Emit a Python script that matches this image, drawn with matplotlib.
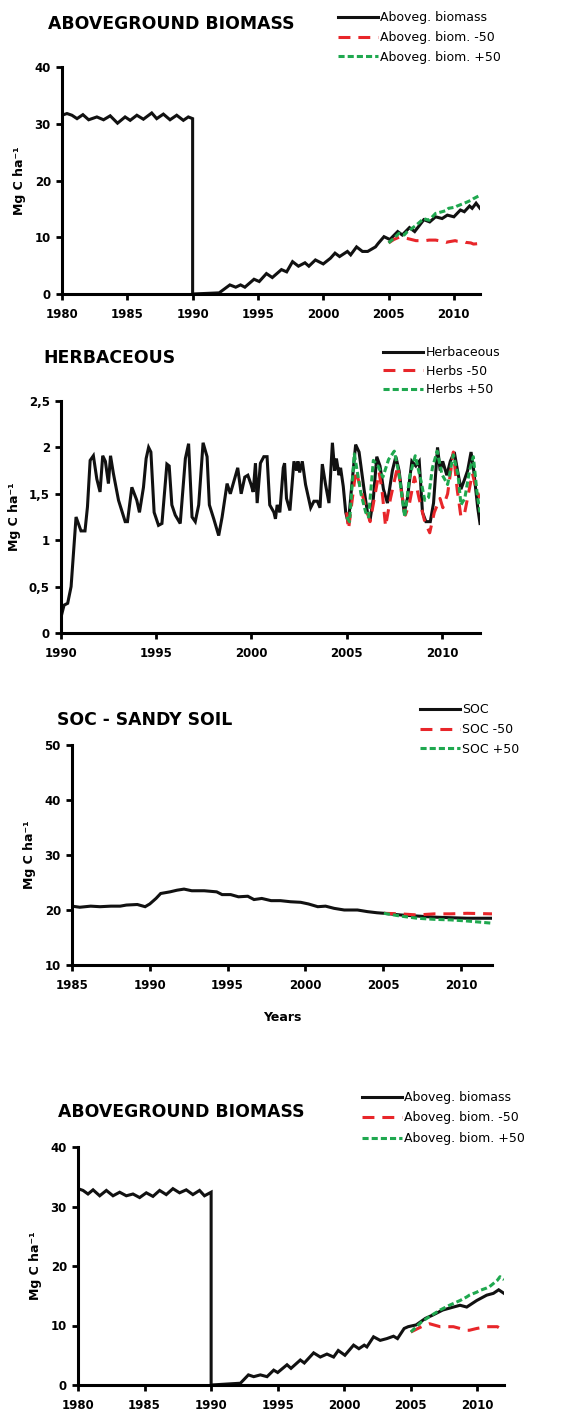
import matplotlib
matplotlib.use("Agg")
import matplotlib.pyplot as plt

plt.rcParams['font.family'] = ['DejaVu Sans']
plt.rcParams['font.weight'] = 'bold'

# --- Aboveground biomass (top panel) ---
agb_years = [1980.0, 1980.38, 1980.76, 1981.15, 1981.6, 1982.04, 1982.67, 1983.18, 1983.69,
             1984.25, 1984.83, 1985.22, 1985.73, 1986.23, 1986.87, 1987.25, 1987.76, 1988.27,
             1988.78, 1989.29, 1989.67, 1990.0, 1990.0,
             1992.03, 1992.85, 1993.3, 1993.67, 1994.0, 1994.7, 1995.1, 1995.65, 1996.1, 1996.8,
             1997.2, 1997.65, 1998.1, 1998.6, 1998.9, 1999.4, 2000.0, 2000.55, 2000.9, 2001.25,
             2001.85, 2002.1, 2002.55, 2003.0, 2003.4, 2004.0, 2004.2, 2004.65, 2005.1, 2005.7,
             2006.05, 2006.6, 2007.0, 2007.7, 2008.15, 2008.6, 2009.1, 2009.5, 2010.0, 2010.5,
             2010.8, 2011.2, 2011.4, 2011.7, 2012.0]
agb_vals = [31.5, 31.8, 31.5, 30.9, 31.6, 30.7, 31.2, 30.7, 31.4,
            30.1, 31.2, 30.6, 31.5, 30.8, 31.9, 30.9, 31.7, 30.7,
            31.5, 30.6, 31.2, 30.9, 0.0,
            0.2, 1.6, 1.2, 1.6, 1.2, 2.6, 2.2, 3.6, 2.9, 4.3,
            3.9, 5.7, 4.9, 5.5, 4.9, 6.0, 5.3, 6.3, 7.2, 6.6,
            7.5, 6.9, 8.3, 7.5, 7.5, 8.3, 8.9, 10.1, 9.6, 11.0,
            10.4, 11.7, 11.0, 13.1, 12.7, 13.6, 13.3, 13.9, 13.6, 14.8,
            14.5, 15.5, 15.1, 16.0, 15.1]
agb_scen_years = [2005.0, 2005.4, 2005.8, 2006.2, 2006.4, 2007.1, 2007.7, 2007.8, 2008.1, 2008.6,
                  2009.1, 2009.4, 2009.6, 2010.1, 2010.25, 2010.8, 2010.9, 2011.3, 2011.5, 2012.0]
agb_minus = [9.0, 9.6, 10.0, 9.9, 9.8, 9.4, 9.4, 9.4, 9.5, 9.5,
             9.3, 9.1, 9.2, 9.4, 9.3, 9.2, 9.1, 9.0, 8.8, 8.9]
agb_plus = [9.0, 9.8, 10.7, 10.4, 10.9, 12.1, 13.3, 13.2, 13.0, 14.2,
            14.5, 14.7, 15.1, 15.3, 15.5, 16.0, 16.1, 16.5, 16.8, 17.4]

# --- Herbaceous ---
herb_years = [1990.0, 1990.16, 1990.35, 1990.53, 1990.79, 1991.05, 1991.26, 1991.39, 1991.53,
              1991.7, 1991.88, 1992.05, 1992.19, 1992.33, 1992.49, 1992.6, 1992.75, 1993.02,
              1993.37, 1993.49, 1993.72, 1993.98, 1994.12, 1994.33, 1994.47, 1994.6, 1994.72,
              1994.89, 1995.12, 1995.3, 1995.56, 1995.68, 1995.82, 1996.0, 1996.26, 1996.53,
              1996.7, 1996.88, 1997.05, 1997.23, 1997.46, 1997.67, 1997.79, 1998.02, 1998.28,
              1998.46, 1998.72, 1998.89, 1999.28, 1999.46, 1999.65, 1999.81, 1999.98, 2000.09,
              2000.21, 2000.3, 2000.47, 2000.65, 2000.82, 2000.96, 2001.18, 2001.26, 2001.35,
              2001.49, 2001.67, 2001.74, 2001.84, 2002.02, 2002.23, 2002.37, 2002.44, 2002.53,
              2002.67, 2002.84, 2003.11, 2003.28, 2003.46, 2003.6, 2003.72, 2003.89, 2004.07,
              2004.25, 2004.37, 2004.46, 2004.6, 2004.68, 2004.82, 2004.95, 2005.09, 2005.25,
              2005.47, 2005.65, 2005.91, 2006.09, 2006.23, 2006.4, 2006.58, 2006.75, 2006.93,
              2007.14, 2007.4, 2007.58, 2007.75, 2008.02, 2008.19, 2008.42, 2008.63, 2008.81,
              2008.98, 2009.16, 2009.39, 2009.56, 2009.77, 2009.91, 2010.04, 2010.26, 2010.44,
              2010.65, 2010.82, 2011.0, 2011.18, 2011.35, 2011.53, 2011.67, 2011.88, 2012.0]
herb_vals = [0.17, 0.30, 0.32, 0.50, 1.25, 1.10, 1.10, 1.36, 1.86,
             1.91, 1.66, 1.52, 1.91, 1.85, 1.61, 1.91, 1.72, 1.43,
             1.20, 1.20, 1.57, 1.43, 1.30, 1.57, 1.88, 2.00, 1.95,
             1.30, 1.16, 1.18, 1.82, 1.80, 1.38, 1.27, 1.18, 1.88,
             2.04, 1.25, 1.20, 1.38, 2.05, 1.90, 1.38, 1.23, 1.05,
             1.25, 1.61, 1.50, 1.78, 1.50, 1.68, 1.70, 1.60, 1.52,
             1.83, 1.40, 1.83, 1.90, 1.90, 1.38, 1.30, 1.23, 1.38,
             1.30, 1.78, 1.83, 1.45, 1.32, 1.85, 1.75, 1.85, 1.73,
             1.85, 1.60, 1.35, 1.42, 1.42, 1.35, 1.82, 1.60, 1.40,
             2.05, 1.75, 1.88, 1.70, 1.78, 1.58, 1.30, 1.18, 1.55,
             2.03, 1.95, 1.55, 1.30, 1.22, 1.45, 1.90, 1.80, 1.55,
             1.40, 1.75, 1.90, 1.75, 1.30, 1.45, 1.85, 1.80, 1.85,
             1.30, 1.20, 1.20, 1.40, 2.00, 1.75, 1.85, 1.70, 1.85,
             1.95, 1.75, 1.55, 1.65, 1.75, 1.95, 1.75, 1.35, 1.18]
herb_minus_years = [2005.0, 2005.1, 2005.48, 2005.75, 2006.0, 2006.23, 2006.7, 2006.85, 2007.04,
                    2007.3, 2007.68, 2007.85, 2008.08, 2008.3, 2008.56, 2008.8, 2009.1, 2009.36,
                    2009.6, 2009.9, 2010.05, 2010.3, 2010.6, 2010.8, 2011.0, 2011.2, 2011.6,
                    2011.8, 2012.0]
herb_minus = [1.30, 1.12, 1.75, 1.55, 1.35, 1.20, 1.73, 1.55, 1.15,
              1.45, 1.80, 1.55, 1.27, 1.40, 1.68, 1.45, 1.20, 1.08,
              1.30, 1.45, 1.35, 1.50, 1.95, 1.55, 1.25, 1.30, 1.72,
              1.55, 1.45]
herb_plus_years = [2005.0, 2005.15, 2005.4, 2005.75, 2006.0, 2006.15, 2006.4, 2006.65, 2006.9,
                   2007.2, 2007.5, 2007.75, 2008.05, 2008.3, 2008.6, 2008.9, 2009.1, 2009.3,
                   2009.5, 2009.75, 2010.0, 2010.3, 2010.6, 2010.85, 2011.0, 2011.2, 2011.45,
                   2011.65, 2011.85, 2012.0]
herb_plus = [1.25, 1.20, 1.93, 1.50, 1.30, 1.25, 1.86, 1.80, 1.68,
             1.87, 1.96, 1.71, 1.25, 1.68, 1.91, 1.64, 1.43, 1.46,
             1.78, 1.96, 1.71, 1.60, 1.92, 1.70, 1.38, 1.45, 1.75,
             1.90, 1.50, 1.30]

# --- SOC sandy soil ---
soc_years = [1985.0, 1985.5, 1986.2, 1986.8, 1987.5, 1988.1, 1988.5, 1989.2, 1989.7, 1990.0,
             1990.4, 1990.7, 1991.3, 1991.75, 1992.2, 1992.7, 1993.5, 1994.3, 1994.65, 1995.2,
             1995.7, 1996.3, 1996.7, 1997.2, 1997.8, 1998.4, 1999.05, 1999.7, 2000.2, 2000.8,
             2001.3, 2001.85, 2002.5, 2003.35, 2004.0, 2004.6, 2005.05, 2006.1, 2007.2, 2008.3,
             2009.35, 2010.4, 2012.0]
soc_vals = [20.7, 20.5, 20.7, 20.6, 20.7, 20.7, 20.9, 21.0, 20.6, 21.1,
            22.1, 23.0, 23.3, 23.6, 23.8, 23.5, 23.5, 23.3, 22.8, 22.8,
            22.4, 22.5, 21.9, 22.1, 21.7, 21.7, 21.5, 21.4, 21.1, 20.6,
            20.7, 20.3, 20.0, 20.0, 19.7, 19.5, 19.4, 19.1, 18.9, 18.7,
            18.6, 18.5, 18.5]
soc_scen_years = [2005.05, 2006.1, 2007.2, 2008.3, 2009.35, 2010.4, 2012.0]
soc_minus = [19.4, 19.3, 19.1, 19.3, 19.3, 19.4, 19.3]
soc_plus = [19.4, 18.9, 18.5, 18.3, 18.2, 18.0, 17.6]

# --- Aboveground biomass (bottom copy) ---
agb2_years = [1980.0, 1980.38, 1980.75, 1981.13, 1981.63, 1982.13, 1982.63, 1983.13, 1983.63,
              1984.13, 1984.63, 1985.13, 1985.63, 1986.13, 1986.63, 1987.13, 1987.63, 1988.13,
              1988.63, 1989.13, 1989.5, 1990.0, 1990.0,
              1992.2, 1992.8, 1993.2, 1993.7, 1994.2, 1994.7, 1995.0, 1995.7, 1996.0, 1996.7,
              1997.0, 1997.7, 1998.2, 1998.7, 1999.2, 1999.55, 2000.05, 2000.7, 2001.1, 2001.5,
              2001.7, 2002.2, 2002.7, 2003.2, 2003.7, 2004.0, 2004.5, 2004.8, 2005.4, 2006.1,
              2006.6, 2007.4, 2008.2, 2008.7, 2009.2, 2009.95, 2010.7, 2011.2, 2011.6, 2012.0]
agb2_vals = [33.0, 32.7, 32.1, 32.8, 31.8, 32.7, 31.8, 32.4, 31.8,
             32.1, 31.5, 32.3, 31.7, 32.7, 32.0, 33.0, 32.3, 32.8,
             32.0, 32.7, 31.8, 32.4, 0.0,
             0.3, 1.7, 1.4, 1.7, 1.4, 2.5, 2.1, 3.4, 2.8, 4.2,
             3.7, 5.4, 4.7, 5.2, 4.7, 5.8, 5.0, 6.7, 6.1, 6.7,
             6.4, 8.1, 7.5, 7.8, 8.2, 7.8, 9.5, 9.8, 10.1, 11.2,
             11.7, 12.6, 13.1, 13.4, 13.1, 14.2, 15.1, 15.4, 16.0, 15.4]
agb2_scen_years = [2005.0, 2005.8, 2006.4, 2007.2, 2007.9, 2008.2, 2008.7, 2009.2, 2009.4, 2009.95,
                   2010.2, 2010.7, 2010.9, 2011.5, 2011.7, 2012.0]
agb2_minus = [8.9, 9.8, 10.3, 9.8, 9.8, 9.8, 9.5, 9.2, 9.2, 9.5,
              9.6, 9.8, 9.8, 9.8, 9.5, 8.9]
agb2_plus = [8.9, 10.6, 11.5, 12.6, 13.4, 13.7, 14.2, 14.8, 15.1, 15.6,
             15.9, 16.3, 16.5, 17.6, 18.2, 17.7]

BLACK = '#111111'
RED = '#e8262a'
GREEN = '#1fa84f'
LW = 2.2
RED_LS = (0, (3.9, 2.6))
GREEN_LS = (0, (2.0, 1.0))

W, H = 571, 1412
fig = plt.figure(figsize=(W / 100, H / 100), dpi=100)


def px_axes(left, right, top, bottom):
    return fig.add_axes([left / W, 1 - bottom / H, (right - left) / W, (bottom - top) / H])


def style(ax, xlim, ylim, xticks, yticks, ylabels=None):
    ax.set_xlim(*xlim)
    ax.set_ylim(*ylim)
    ax.set_xticks(xticks)
    ax.set_yticks(yticks)
    if ylabels is not None:
        ax.set_yticklabels(ylabels)
    for s in ['top', 'right']:
        ax.spines[s].set_visible(False)
    for s in ['left', 'bottom']:
        ax.spines[s].set_linewidth(2.2)
    ax.tick_params(direction='out', length=4, width=2, labelsize=8.5)
    ax.tick_params(axis='x', pad=6)
    ax.tick_params(axis='y', pad=4)
    for lab in ax.get_xticklabels() + ax.get_yticklabels():
        lab.set_fontweight('bold')
    ax.set_ylabel('Mg C ha⁻¹', fontsize=9, fontweight='bold', labelpad=6)


def draw(ax, x, y, xm, ym, xp, yp):
    l1, = ax.plot(x, y, color=BLACK, lw=LW, solid_joinstyle='miter')
    l2, = ax.plot(xm, ym, color=RED, lw=LW, ls=RED_LS)
    l3, = ax.plot(xp, yp, color=GREEN, lw=LW, ls=GREEN_LS)
    return [l1, l2, l3]


def add_legend(handles, labels, x, y, spacing):
    fig.legend(handles, labels, loc='upper left', bbox_to_anchor=(x / W, 1 - y / H),
               frameon=False, handlelength=3.2, handletextpad=0.2,
               borderpad=0, borderaxespad=0, labelspacing=spacing,
               prop={'weight': 'normal', 'size': 9})


# panel 1
ax1 = px_axes(62, 480, 67, 294)
style(ax1, (1980, 2012), (0, 40), range(1980, 2011, 5), range(0, 41, 10))
h = draw(ax1, agb_years, agb_vals, agb_scen_years, agb_minus, agb_scen_years, agb_plus)
fig.text(48 / W, 1 - 24 / H, 'ABOVEGROUND BIOMASS', fontsize=12.4, fontweight='bold', va='center')
add_legend(h, ['Aboveg. biomass', 'Aboveg. biom. -50', 'Aboveg. biom. +50'], 338, 11, 0.55)

# panel 2
ax2 = px_axes(61, 480, 401, 633)
style(ax2, (1990, 2012), (0, 2.5), range(1990, 2011, 5), [0, 0.5, 1, 1.5, 2, 2.5],
      ['0', '0,5', '1', '1,5', '2', '2,5'])
h = draw(ax2, herb_years, herb_vals, herb_minus_years, herb_minus, herb_plus_years, herb_plus)
fig.text(43 / W, 1 - 358 / H, 'HERBACEOUS', fontsize=12.4, fontweight='bold', va='center')
add_legend(h, ['Herbaceous', 'Herbs -50', 'Herbs +50'], 383, 346, 0.45)

# panel 3
ax3 = px_axes(72, 492, 745, 965)
style(ax3, (1985, 2012), (10, 50), range(1985, 2011, 5), range(10, 51, 10))
h = draw(ax3, soc_years, soc_vals, soc_scen_years, soc_minus, soc_scen_years, soc_plus)
ax3.set_xlabel('Years', fontsize=9, fontweight='bold', labelpad=14)
fig.text(57 / W, 1 - 720 / H, 'SOC - SANDY SOIL', fontsize=12.4, fontweight='bold', va='center')
add_legend(h, ['SOC', 'SOC -50', 'SOC +50'], 420, 703, 0.55)

# panel 4
ax4 = px_axes(78, 504, 1147, 1385)
style(ax4, (1980, 2012), (0, 40), range(1980, 2011, 5), range(0, 41, 10))
h = draw(ax4, agb2_years, agb2_vals, agb2_scen_years, agb2_minus, agb2_scen_years, agb2_plus)
fig.text(58 / W, 1 - 1112 / H, 'ABOVEGROUND BIOMASS', fontsize=12.4, fontweight='bold', va='center')
add_legend(h, ['Aboveg. biomass', 'Aboveg. biom. -50', 'Aboveg. biom. +50'], 362, 1091, 0.6)

fig.savefig('out.png', dpi=100)
